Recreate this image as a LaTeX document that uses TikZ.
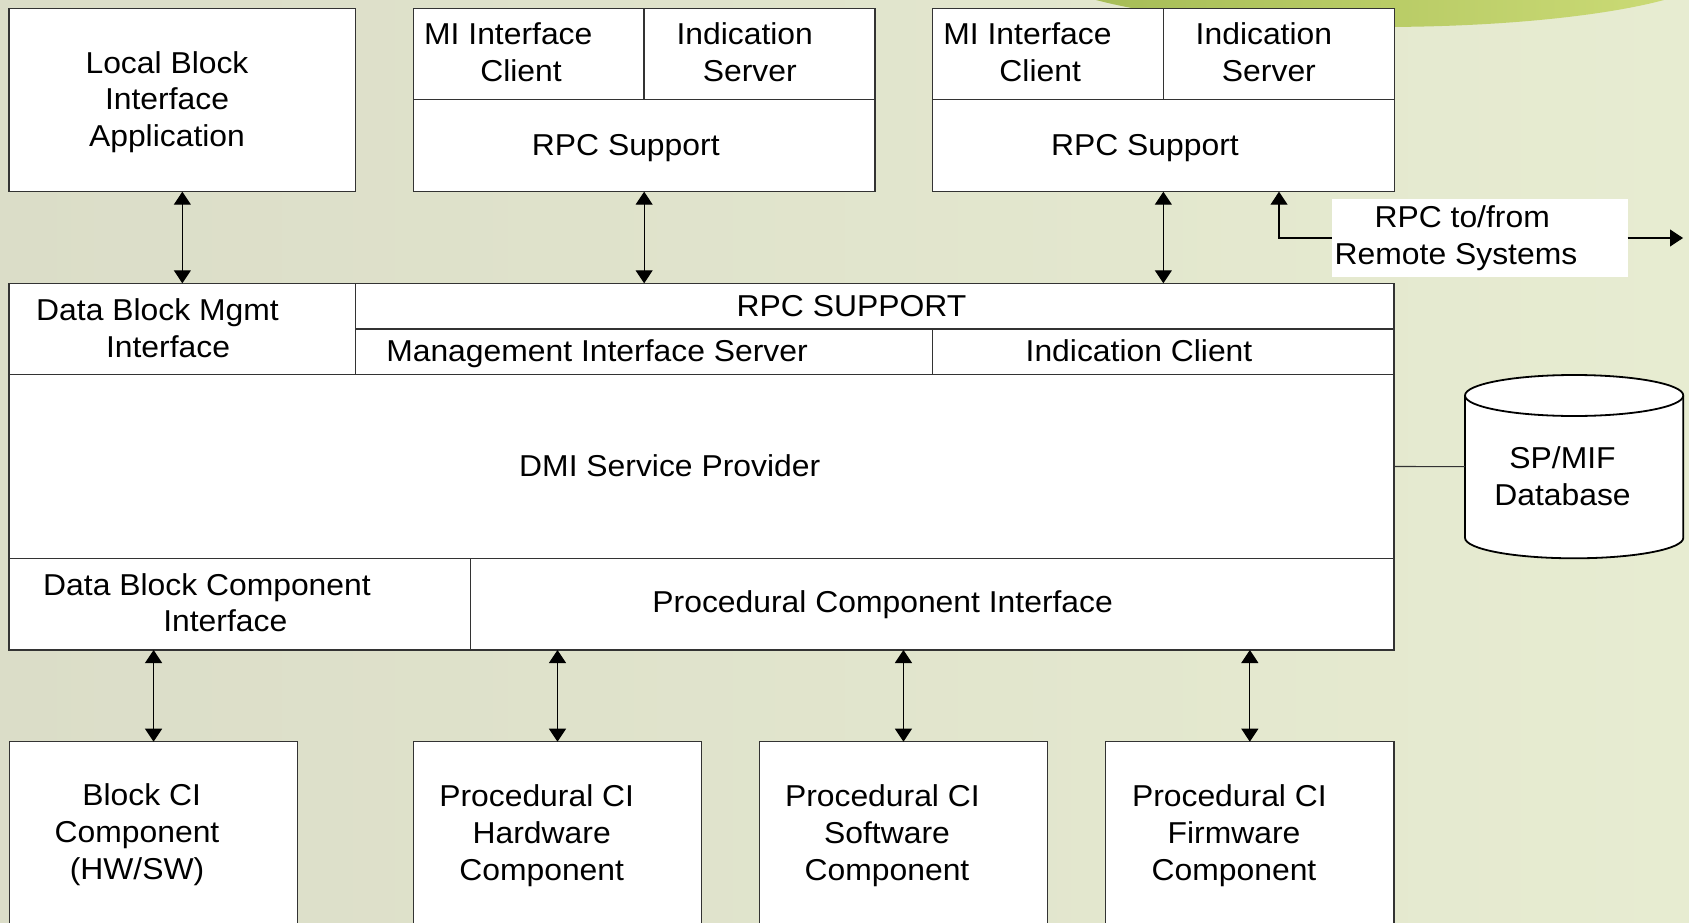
\documentclass[tikz,border=0pt]{standalone}
\usepackage{fontspec}
\setmainfont{Liberation Sans}[FakeStretch=1.055]
\usetikzlibrary{arrows.meta,calc}

\definecolor{bgleft}{RGB}{219,221,200}
\definecolor{bgright}{RGB}{231,236,209}
\definecolor{leafdark}{RGB}{163,186,84}
\definecolor{leaflight}{RGB}{206,221,120}
\definecolor{edge}{RGB}{51,51,51}

\tikzset{
  blk/.style={draw=edge, line width=1.2pt, fill=white, rectangle,
    inner sep=0pt, outer sep=0pt, anchor=north west},
  lbl/.style={font=\fontsize{30.2pt}{36.7pt}\selectfont, align=center,
    anchor=base, inner sep=0pt, text=black},
  tip/.style={>={Triangle[width=17pt,length=13pt]}},
  link/.style={tip, line width=1.1pt, draw=black, <->},
  oneway/.style={tip, line width=1.1pt, draw=black, ->},
  plain/.style={line width=1.1pt, draw=edge},
}

% block given by its name and two corners (x1,y1) (x2,y2), y growing downwards
\newcommand{\dmibox}[5]{%
  \node[blk, minimum width={(#4-#2)*1pt}, minimum height={(#5-#3)*1pt}] (#1) at (#2,#3) {};}

\begin{document}
\begin{tikzpicture}[x=1pt, y=-1pt]
\useasboundingbox (0,0) rectangle (1689,923);
\clip (0,0) rectangle (1689,923);

% backdrop
\shade[left color=bgleft, right color=bgright] (0,0) rectangle (1689,923);
\shade[left color=leafdark, right color=leaflight] (1380,-33) ellipse [x radius=340pt, y radius=60pt];

% upper row
\dmibox{lbia}{9}{8.3}{355.7}{191.7}
\dmibox{micL}{413.3}{8.3}{644}{99.3}
\dmibox{isL}{644}{8.3}{875}{99.3}
\dmibox{rpcL}{413.3}{99.3}{875}{191.7}
\dmibox{micR}{932.5}{8.3}{1163.2}{99.3}
\dmibox{isR}{1163.2}{8.3}{1394.2}{99.3}
\dmibox{rpcR}{932.5}{99.3}{1394.2}{191.7}

% service provider stack
\dmibox{dbmi}{9}{283.3}{355.7}{374.7}
\dmibox{rpcS}{355.7}{283.3}{1394}{329}
\dmibox{mis}{355.7}{329}{932.5}{374.7}
\dmibox{ic}{932.5}{329}{1394}{374.7}
\dmibox{dmi}{9}{374.7}{1394}{558.3}
\dmibox{dbci}{9}{558.3}{470.7}{650}
\dmibox{pci}{470.7}{558.3}{1394}{650}

% components
\dmibox{bci}{9.4}{741.7}{297.8}{960}
\dmibox{phw}{413.3}{741.7}{701.7}{960}
\dmibox{psw}{759.3}{741.7}{1047.6}{960}
\dmibox{pfw}{1105.7}{741.7}{1394}{960}

% database cylinder
\node[inner sep=0pt, outer sep=0pt, minimum width=218.3pt, minimum height=183.3pt,
  anchor=north west] (db) at (1465,375) {};
\draw[draw=black, line width=1.8pt, fill=white]
  (1465,395.5) -- (1465,537.8)
  .. controls (1465,549.12) and (1513.87,558.3) .. (1574.15,558.3)
  .. controls (1634.43,558.3) and (1683.3,549.12) .. (1683.3,537.8)
  -- (1683.3,395.5)
  .. controls (1683.3,384.18) and (1634.43,375) .. (1574.15,375)
  .. controls (1513.87,375) and (1465,384.18) .. (1465,395.5) -- cycle;
\draw[draw=black, line width=1.8pt]
  (1465,395.5) .. controls (1465,406.82) and (1513.87,416) .. (1574.15,416)
  .. controls (1634.43,416) and (1683.3,406.82) .. (1683.3,395.5);

% remote RPC label
\node[fill=white, inner sep=0pt, outer sep=0pt, minimum width=296pt, minimum height=77.4pt,
  anchor=north west] (rlab) at (1331.7,199.3) {};
\coordinate (rtap) at (1279,191.7);
\coordinate (remote) at (1683,238);

% connectors
\draw[link] (lbia.south) -- (dbmi.north);
\draw[link] (rpcL.south) -- (rpcL.south |- rpcS.north);
\draw[link] (rpcR.south) -- (rpcR.south |- rpcS.north);
\draw[oneway] (rlab.west) -| (rtap);
\draw[oneway] (rlab.east) -- (remote);
\draw[plain] (dmi.east) -- (db.west);
\draw[link] (bci.north |- dbci.south) -- (bci.north);
\draw[link] (phw.north |- pci.south) -- (phw.north);
\draw[link] (psw.north |- pci.south) -- (psw.north);
\draw[link] (pfw.north |- pci.south) -- (pfw.north);

% labels (each placed at the baseline of its last line)
\node[lbl] (tLbia) at (167,146.7) {Local Block\\Interface\\Application};
\node[lbl] (tMicL) at (521,81.7) {MI Interface\hspace*{25.4pt}\\Client};
\node[lbl] (tIsL) at (749.7,81.7) {Indication\hspace*{10pt}\\Server};
\node[lbl] (tRpcL) at (625.8,155) {RPC Support};
\node[lbl] (tMicR) at (1040.2,81.7) {MI Interface\hspace*{25.4pt}\\Client};
\node[lbl] (tIsR) at (1268.9,81.7) {Indication\hspace*{10pt}\\Server};
\node[lbl] (tRpcR) at (1145,155) {RPC Support};
\node[lbl] (tDbmi) at (168,357) {Data Block Mgmt\hspace*{21pt}\\Interface};
\node[lbl] (tRpcS) at (851.5,316) {RPC SUPPORT};
\node[lbl] (tMis) at (597,361.7) {Management Interface Server};
\node[lbl] (tIc) at (1139,361.7) {Indication Client};
\node[lbl] (tDmi) at (669.7,476) {DMI Service Provider};
\node[lbl] (tDbci) at (225.3,631.7) {Data Block Component\hspace*{36.6pt}\\Interface};
\node[lbl] (tPci) at (882.7,612.7) {Procedural Component Interface};
\node[lbl] (tBci) at (137,879) {Block CI\hspace*{-9.4pt}\\Component\\(HW/SW)};
\node[lbl] (tPhw) at (541.7,880) {Procedural CI\hspace*{10pt}\\Hardware\hspace*{-4.6pt}\\Component};
\node[lbl] (tPsw) at (887,880) {Procedural CI\hspace*{9.2pt}\\Software\hspace*{-7.8pt}\\Component};
\node[lbl] (tPfw) at (1234,880) {Procedural CI\hspace*{9.2pt}\\Firmware\hspace*{-3.4pt}\\Component};
\node[lbl] (tDb) at (1562.5,505.4) {SP/MIF\\Database};
\node[lbl] (tRlab) at (1456,264.3) {RPC to/from\hspace*{-12.4pt}\\Remote Systems};
\end{tikzpicture}
\end{document}
